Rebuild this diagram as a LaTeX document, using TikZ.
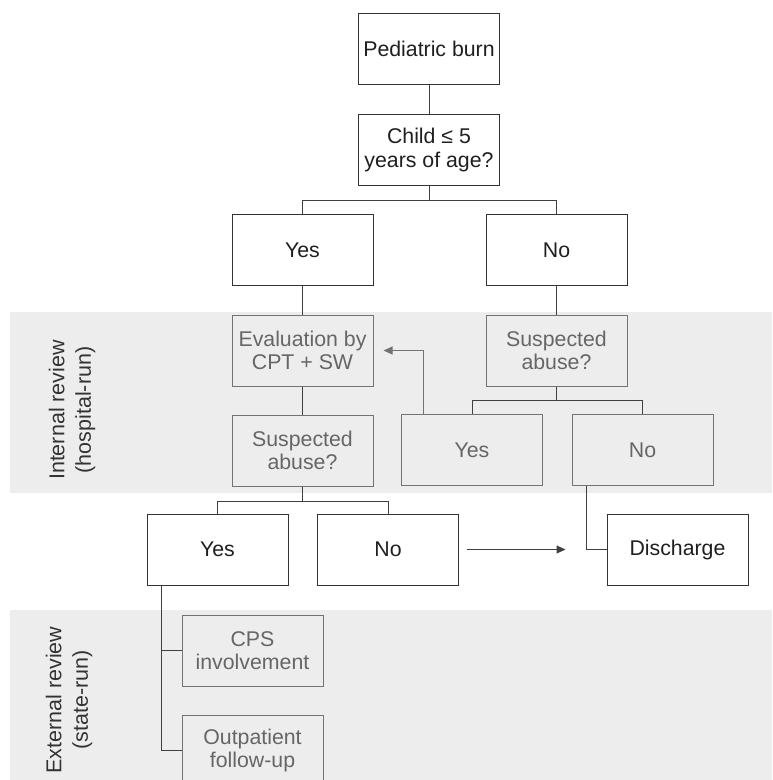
\documentclass[tikz,border=0pt]{standalone}
\usepackage{fontspec}
\setmainfont{Liberation Sans}
\usetikzlibrary{arrows.meta}

\begin{document}
\begin{tikzpicture}[x=1pt, y=-1pt,
    box/.style={draw=black!80, line width=1pt, minimum width=141pt,
      minimum height=71pt, inner sep=2pt, align=center, text=black!88,
      font=\fontsize{21.3}{23.5}\selectfont},
    greybox/.style={box, draw=black!55, text=black!60},
    band/.style={fill=black!7, draw=none},
    link/.style={draw=black!75, line width=1pt},
    greylink/.style={draw=black!55, line width=1pt},
    tip/.style={-{Triangle[length=9pt, width=8pt]}},
    bandlabel/.style={rotate=90, align=center, text=black!80,
      font=\fontsize{21.5}{26.5}\selectfont}]
    \useasboundingbox (0,0) rectangle (772,780);

    % Review bands
    \fill[band] (10,312) rectangle (772,493);
    \fill[band] (10,610) rectangle (772,780);
    \node[bandlabel] (intlab) at (72,410) {Internal review\\(hospital-run)};
    \node[bandlabel] (extlab) at (69,700) {External review\\(state-run)};

    % Intake
    \path (429,49) node[box] (burn) {Pediatric burn};
    \path (429,150) node[box] (age) {Child ≤ 5\\years of age?};
    \path (302.5,250) node[box] (yes1) {Yes};
    \path (556.5,250) node[box] (no1) {No};

    % Internal review
    \path (302.5,350.5) node[greybox] (eval) {Evaluation by\\CPT + SW};
    \path (302.5,450.5) node[greybox] (susp1) {Suspected\\abuse?};
    \path (556.5,350.5) node[greybox] (susp2) {Suspected\\abuse?};
    \path (472,450) node[greybox] (yes2) {Yes};
    \path (642.5,450) node[greybox] (no2) {No};

    % Outcome
    \path (217.5,549.5) node[box] (yes3) {Yes};
    \path (388,549.5) node[box] (no3) {No};
    \path (677.5,549.5) node[box] (disch) {Discharge};

    % External review
    \path (252.5,650.5) node[greybox] (cps) {CPS\\involvement};
    \path (252.5,750.5) node[greybox] (outp) {Outpatient\\follow-up};

    % Connections
    \draw[link] (burn) -- (age);
    \foreach \j in {yes1, no1} {
      \draw[link] (age.south) -- ++(0,14.5) -| (\j.north);
    }
    \draw[link] (yes1) -- (eval);
    \draw[link] (no1) -- (susp2);
    \draw[link] (eval) -- (susp1);
    \foreach \j in {yes2, no2} {
      \draw[link] (susp2.south) -- ++(0,14) -| (\j.north);
    }
    \foreach \j in {yes3, no3} {
      \draw[link] (susp1.south) -- ++(0,15) -| (\j.north);
    }
    \draw[greylink, tip] ([xshift=-49pt]yes2.north) |- ([xshift=10pt]eval.east);
    \draw[link] ([xshift=-56.5pt]no2.south) |- (disch.west);
    \draw[link, tip] ([xshift=8pt]no3.east) -- ([xshift=-41pt]disch.west);
    \foreach \j in {cps, outp} {
      \draw[link] ([xshift=-56.5pt]yes3.south) |- (\j.west);
    }
\end{tikzpicture}
\end{document}
